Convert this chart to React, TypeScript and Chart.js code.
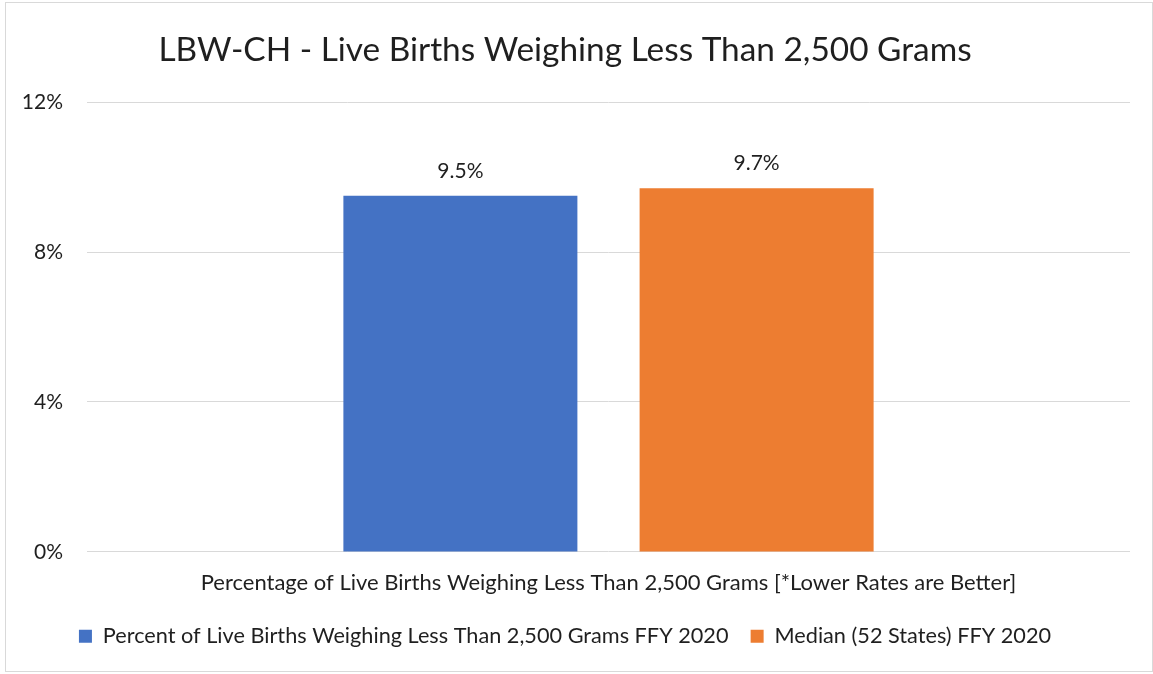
import React, { useEffect, useRef } from "react";
import { Chart, registerables } from "chart.js";

Chart.register(...registerables);

const titleText = "LBW-CH - Live Births Weighing Less Than 2,500 Grams";
const categories = ["Percentage of Live Births Weighing Less Than 2,500 Grams [*Lower Rates are Better]"];
const seriesNames = ["Percent of Live Births Weighing Less Than 2,500 Grams FFY 2020", "Median (52 States) FFY 2020"];
const stateValues = [9.5];
const medianValues = [9.7];
const seriesColors = ["#4472C4", "#ED7D31"];
const yMin = 0;
const yMax = 12;
const yStep = 4;

const FONT = "Lato, 'Open Sans', sans-serif";
const TEXT = "#1f1f1f";

const dataLabelPlugin = {
  id: "dataLabels",
  afterDatasetsDraw(chart: any) {
    const ctx = chart.ctx;
    ctx.save();
    ctx.font = `21px ${FONT}`;
    ctx.fillStyle = TEXT;
    ctx.textAlign = "center";
    ctx.textBaseline = "middle";
    chart.data.datasets.forEach((ds: any, i: number) => {
      const meta = chart.getDatasetMeta(i);
      meta.data.forEach((el: any, j: number) => {
        const v = ds.data[j];
        ctx.fillText(v.toFixed(1) + "%", el.x, el.y - 25);
      });
    });
    ctx.restore();
  },
};

export default function App() {
  const ref = useRef<HTMLCanvasElement>(null);
  useEffect(() => {
    if (!ref.current) return;
    const chart = new Chart(ref.current, {
      type: "bar",
      data: {
        labels: categories,
        datasets: [
          { label: seriesNames[0], data: stateValues, backgroundColor: seriesColors[0], barPercentage: 0.79, categoryPercentage: 0.568 },
          { label: seriesNames[1], data: medianValues, backgroundColor: seriesColors[1], barPercentage: 0.79, categoryPercentage: 0.568 },
        ],
      },
      options: {
        responsive: false,
        animation: false,
        layout: { padding: { top: 20, right: 23, bottom: 17, left: 0 } },
        plugins: {
          title: {
            display: true,
            text: titleText,
            color: TEXT,
            font: { family: FONT, size: 33.4, weight: "normal" },
            padding: { top: 10, bottom: 32 },
          },
          legend: {
            position: "bottom",
            labels: {
              boxWidth: 13,
              boxHeight: 13,
              padding: 11,
              color: TEXT,
              font: { family: FONT, size: 21.7 },
              generateLabels: (chart: any) => {
                const base = Chart.defaults.plugins.legend.labels.generateLabels(chart);
                return base.map((l: any, i: number) => ({
                  ...l,
                  text: i < base.length - 1 ? l.text + "  " : l.text,
                }));
              },
            },
          },
          tooltip: { enabled: false },
        },
        scales: {
          x: {
            grid: { display: false },
            border: { display: false },
            ticks: { color: TEXT, font: { family: FONT, size: 22 }, padding: 10, maxRotation: 0 },
            afterFit: (s: any) => { s.height += 8; },
          },
          y: {
            min: yMin,
            max: yMax,
            ticks: {
              stepSize: yStep,
              padding: 24,
              color: TEXT,
              font: { family: FONT, size: 21 },
              callback: (v: any) => v + "%",
            },
            grid: { color: "#d9d9d9", drawTicks: false, lineWidth: 1 },
            border: { display: false },
            afterFit: (s: any) => { s.width = 87; },
          },
        },
      },
      plugins: [dataLabelPlugin],
    });
    return () => chart.destroy();
  }, []);
  return (
    <div style={{ position: "fixed", left: 0, top: 0, width: 1153, height: 674, background: "#fff" }}>
      <canvas ref={ref} width={1153} height={674} style={{ display: "block" }} />
      <div style={{ position: "absolute", left: 5, top: 2, width: 1146, height: 668, border: "1px solid #d9d9d9", pointerEvents: "none" }} />
    </div>
  );
}
